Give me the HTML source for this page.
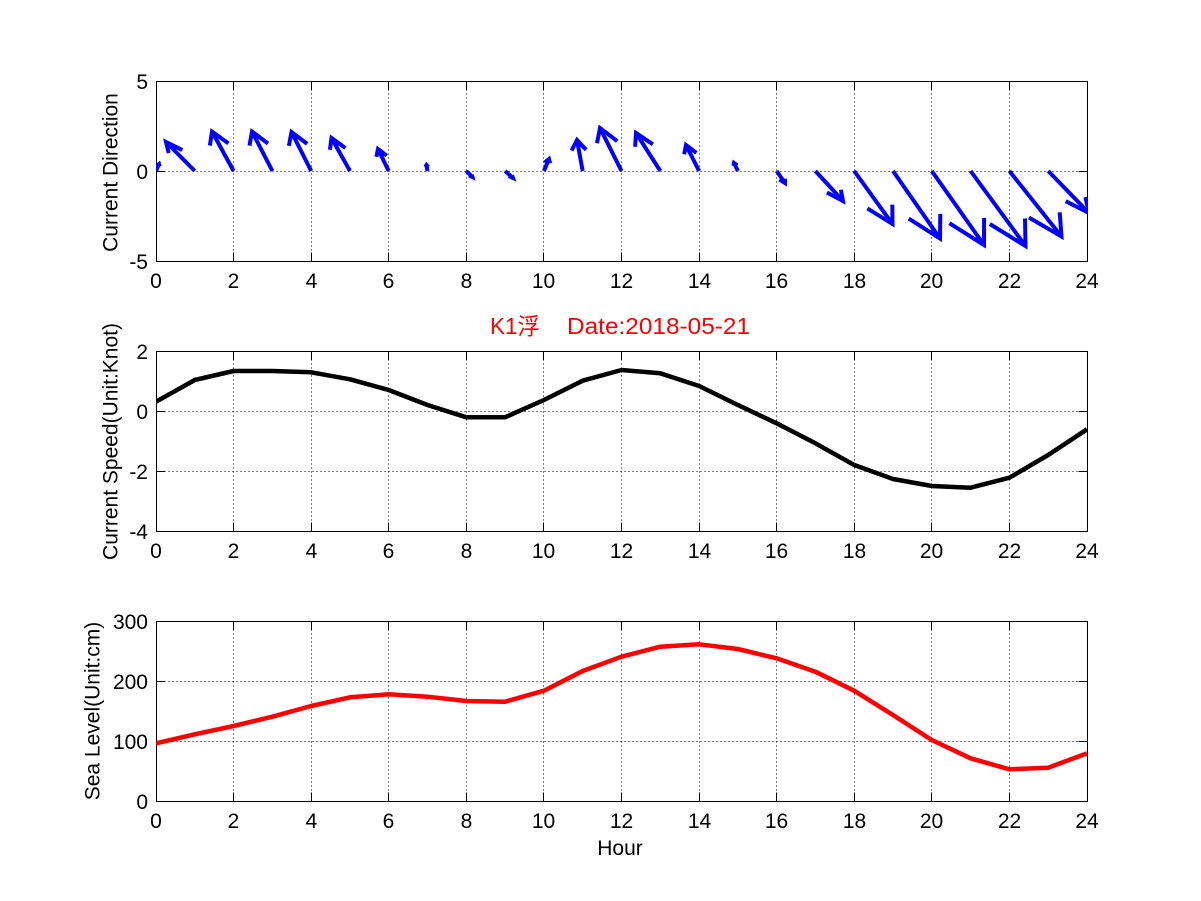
<!DOCTYPE html>
<html><head><meta charset="utf-8"><style>
html,body{margin:0;padding:0;background:#fff;}
svg{display:block;}
text{font-family:"Liberation Sans","Noto Sans CJK SC",sans-serif;font-size:21px;fill:#000;}
</style></head><body>
<svg width="1201" height="901" viewBox="0 0 1201 901" xmlns="http://www.w3.org/2000/svg">
<defs>
<clipPath id="c1"><rect x="156" y="81" width="932" height="181"/></clipPath>
<clipPath id="c2"><rect x="156" y="351" width="932" height="181"/></clipPath>
<clipPath id="c3"><rect x="156" y="621" width="932" height="181"/></clipPath>
</defs>
<rect width="1201" height="901" fill="#fff"/>

<!-- ===== Plot 1 ===== -->
<g stroke="#000" stroke-width="1" stroke-dasharray="1 3" fill="none">
<path d="M233.5 81.5V261.5M311.5 81.5V261.5M388.5 81.5V261.5M466.5 81.5V261.5M543.5 81.5V261.5M621.5 81.5V261.5M699.5 81.5V261.5M776.5 81.5V261.5M854.5 81.5V261.5M931.5 81.5V261.5M1009.5 81.5V261.5"/>
<path d="M156.5 171.5H1087.5"/>
</g>
<g stroke="#000" stroke-width="1" fill="none">
<rect x="156.5" y="81.5" width="931" height="180"/>
<path d="M233.5 81.5v9M311.5 81.5v9M388.5 81.5v9M466.5 81.5v9M543.5 81.5v9M621.5 81.5v9M699.5 81.5v9M776.5 81.5v9M854.5 81.5v9M931.5 81.5v9M1009.5 81.5v9"/>
<path d="M233.5 261.5v-9M311.5 261.5v-9M388.5 261.5v-9M466.5 261.5v-9M543.5 261.5v-9M621.5 261.5v-9M699.5 261.5v-9M776.5 261.5v-9M854.5 261.5v-9M931.5 261.5v-9M1009.5 261.5v-9"/>
<path d="M156.5 171.5h9M1087.5 171.5h-9"/>
</g>
<g clip-path="url(#c1)" stroke="#0000ff" stroke-width="4" fill="none" stroke-linejoin="miter" stroke-miterlimit="10">
<path d="M156 171L159 164M156.4 166.2L159 164L159.7 166.5"/>
<path d="M194.8 171L166 142M168.7 153L166 142L182.3 150.1"/>
<path d="M233.6 171L212 131.5M209.9 145.6L212 131.5L228.4 143.4"/>
<path d="M272.4 171L252 131.5M249.5 145.6L252 131.5L268 143.5"/>
<path d="M311.2 171L291.5 132M288.9 145.9L291.5 132L307.2 143.9"/>
<path d="M350 171L331.5 138M329.9 149.8L331.5 138L345.4 148"/>
<path d="M388.7 171L378 149M376.4 156.8L378 149L386.7 155.7"/>
<path d="M427.5 171L426.5 165M425.4 167L426.5 165L428.2 166.9"/>
<path d="M466.3 171L472.5 177M471.9 174.7L472.5 177L469 175.3"/>
<path d="M505.1 171L513 178M512 175.3L513 178L508.8 176.1"/>
<path d="M543.9 171L549 159M544.5 162.7L549 159L550.1 163.2"/>
<path d="M582.7 171L577 140M571.6 150.5L577 140L586.2 149.9"/>
<path d="M621.5 171L600 128M597 143.3L600 128L617.2 141.1"/>
<path d="M660.3 171L636 133M635.1 146.8L636 133L652.9 144.3"/>
<path d="M699.1 171L686 145M684.2 154.2L686 145L696.4 152.9"/>
<path d="M737.9 171L734 163M733.4 165.8L734 163L737.2 165.4"/>
<path d="M776.6 171L785 183M785 178.6L785 183L779.4 179.5"/>
<path d="M815.4 171L843 201M840.9 189.7L843 201L826.9 192.5"/>
<path d="M854.2 171L892.5 224M892.3 204.6L892.5 224L867.4 208.4"/>
<path d="M893 171L940 238.5M940.3 213.9L940 238.5L908.7 218.6"/>
<path d="M931.8 171L984 245M984.1 217.9L984 245L949.4 223.2"/>
<path d="M970.6 171L1025.5 246M1025 218.5L1025.5 246L989.8 224"/>
<path d="M1009.4 171L1061.5 236.5M1059.7 212.3L1061.5 236.5L1028.9 217.5"/>
<path d="M1048.2 171L1089 213M1085.4 197.1L1089 213L1065.7 201.2"/>
</g>
<g text-anchor="end">
<text x="148" y="89">5</text>
<text x="148" y="179">0</text>
<text x="148" y="269">-5</text>
</g>
<g text-anchor="middle">
<text x="156" y="288">0</text><text x="233.5" y="288">2</text><text x="311.5" y="288">4</text><text x="388.5" y="288">6</text><text x="466.5" y="288">8</text><text x="543.5" y="288">10</text><text x="621.5" y="288">12</text><text x="699.5" y="288">14</text><text x="776.5" y="288">16</text><text x="854.5" y="288">18</text><text x="931.5" y="288">20</text><text x="1009.5" y="288">22</text><text x="1087" y="288">24</text>
</g>
<text transform="translate(117.5,172.5) rotate(-90)" text-anchor="middle">Current Direction</text>

<!-- Title -->
<text x="490" y="334" style="font-size:23px;fill:#ff0000" textLength="50" lengthAdjust="spacingAndGlyphs">K1浮</text>
<text x="567" y="334" style="font-size:23px;fill:#ff0000" textLength="183" lengthAdjust="spacingAndGlyphs">Date:2018-05-21</text>

<!-- ===== Plot 2 ===== -->
<g stroke="#000" stroke-width="1" stroke-dasharray="1 3" fill="none">
<path d="M233.5 351.5V531.5M311.5 351.5V531.5M388.5 351.5V531.5M466.5 351.5V531.5M543.5 351.5V531.5M621.5 351.5V531.5M699.5 351.5V531.5M776.5 351.5V531.5M854.5 351.5V531.5M931.5 351.5V531.5M1009.5 351.5V531.5"/>
<path d="M156.5 411.5H1087.5M156.5 471.5H1087.5"/>
</g>
<g stroke="#000" stroke-width="1" fill="none">
<rect x="156.5" y="351.5" width="931" height="180"/>
<path d="M233.5 351.5v9M311.5 351.5v9M388.5 351.5v9M466.5 351.5v9M543.5 351.5v9M621.5 351.5v9M699.5 351.5v9M776.5 351.5v9M854.5 351.5v9M931.5 351.5v9M1009.5 351.5v9"/>
<path d="M233.5 531.5v-9M311.5 531.5v-9M388.5 531.5v-9M466.5 531.5v-9M543.5 531.5v-9M621.5 531.5v-9M699.5 531.5v-9M776.5 531.5v-9M854.5 531.5v-9M931.5 531.5v-9M1009.5 531.5v-9"/>
<path d="M156.5 411.5h9M1087.5 411.5h-9M156.5 471.5h9M1087.5 471.5h-9"/>
</g>
<g clip-path="url(#c2)">
<polyline fill="none" stroke="#000" stroke-width="4.5" stroke-linejoin="round" points="156,401.7 194.8,380 233.6,371 272.4,371 311.2,372.3 350,379.3 388.7,390 427.5,405 466.3,417.3 505.1,417.3 543.9,400 582.7,380.7 621.5,370 660.3,373.3 699.1,386 737.9,405 776.6,423.3 815.4,443.3 854.2,465 893,479 931.8,486 970.6,487.7 1009.4,477.7 1048.2,455 1087,429.3"/>
</g>
<g text-anchor="end">
<text x="148" y="359">2</text>
<text x="148" y="419">0</text>
<text x="148" y="479">-2</text>
<text x="148" y="539">-4</text>
</g>
<g text-anchor="middle">
<text x="156" y="558">0</text><text x="233.5" y="558">2</text><text x="311.5" y="558">4</text><text x="388.5" y="558">6</text><text x="466.5" y="558">8</text><text x="543.5" y="558">10</text><text x="621.5" y="558">12</text><text x="699.5" y="558">14</text><text x="776.5" y="558">16</text><text x="854.5" y="558">18</text><text x="931.5" y="558">20</text><text x="1009.5" y="558">22</text><text x="1087" y="558">24</text>
</g>
<text transform="translate(117.5,441.5) rotate(-90)" text-anchor="middle">Current Speed(Unit:Knot)</text>

<!-- ===== Plot 3 ===== -->
<g stroke="#000" stroke-width="1" stroke-dasharray="1 3" fill="none">
<path d="M233.5 621.5V801.5M311.5 621.5V801.5M388.5 621.5V801.5M466.5 621.5V801.5M543.5 621.5V801.5M621.5 621.5V801.5M699.5 621.5V801.5M776.5 621.5V801.5M854.5 621.5V801.5M931.5 621.5V801.5M1009.5 621.5V801.5"/>
<path d="M156.5 681.5H1087.5M156.5 741.5H1087.5"/>
</g>
<g stroke="#000" stroke-width="1" fill="none">
<rect x="156.5" y="621.5" width="931" height="180"/>
<path d="M233.5 621.5v9M311.5 621.5v9M388.5 621.5v9M466.5 621.5v9M543.5 621.5v9M621.5 621.5v9M699.5 621.5v9M776.5 621.5v9M854.5 621.5v9M931.5 621.5v9M1009.5 621.5v9"/>
<path d="M233.5 801.5v-9M311.5 801.5v-9M388.5 801.5v-9M466.5 801.5v-9M543.5 801.5v-9M621.5 801.5v-9M699.5 801.5v-9M776.5 801.5v-9M854.5 801.5v-9M931.5 801.5v-9M1009.5 801.5v-9"/>
<path d="M156.5 681.5h9M1087.5 681.5h-9M156.5 741.5h9M1087.5 741.5h-9"/>
</g>
<g clip-path="url(#c3)">
<polyline fill="none" stroke="#ff0000" stroke-width="4.5" stroke-linejoin="round" points="156,743.3 194.8,734.3 233.6,726 272.4,716.7 311.2,706 350,697.3 388.7,694.3 427.5,696.7 466.3,701 505.1,701.7 543.9,690.7 582.7,671 621.5,656.7 660.3,646.7 699.1,644.3 737.9,649 776.6,658.3 815.4,671.7 854.2,690.7 893,715 931.8,740 970.6,758.3 1009.4,769.3 1048.2,767.7 1087,753.3"/>
</g>
<g text-anchor="end">
<text x="148" y="629">300</text>
<text x="148" y="689">200</text>
<text x="148" y="749">100</text>
<text x="148" y="809">0</text>
</g>
<g text-anchor="middle">
<text x="156" y="828">0</text><text x="233.5" y="828">2</text><text x="311.5" y="828">4</text><text x="388.5" y="828">6</text><text x="466.5" y="828">8</text><text x="543.5" y="828">10</text><text x="621.5" y="828">12</text><text x="699.5" y="828">14</text><text x="776.5" y="828">16</text><text x="854.5" y="828">18</text><text x="931.5" y="828">20</text><text x="1009.5" y="828">22</text><text x="1087" y="828">24</text>
</g>
<text transform="translate(99.5,711) rotate(-90)" text-anchor="middle">Sea Level(Unit:cm)</text>
<text x="620" y="855" text-anchor="middle">Hour</text>
</svg>
</body></html>
